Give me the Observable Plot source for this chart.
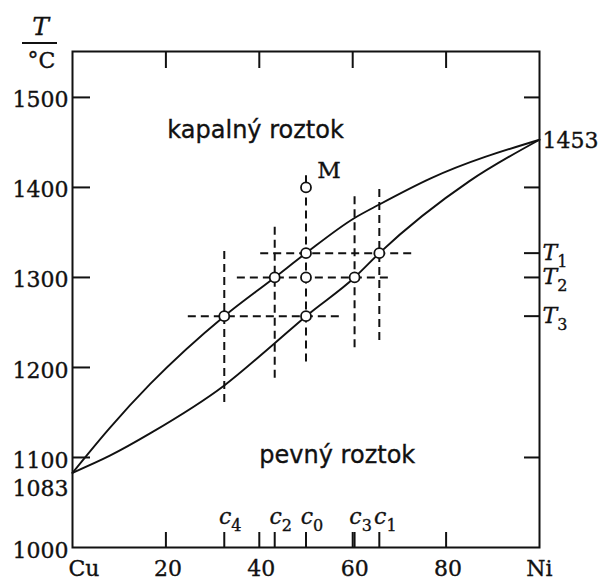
<!DOCTYPE html>
<html>
<head>
<meta charset="utf-8">
<script src="https://cdn.jsdelivr.net/npm/d3@7"></script>
<script src="https://cdn.jsdelivr.net/npm/@observablehq/plot@0.6"></script>
<style>
  body { margin: 0; background: #fff; }
  #chart { width: 601px; height: 581px; }
  #chart svg text { stroke: #111; stroke-width: 0.35px; }
</style>
</head>
<body>
<div id="chart"></div>
<script>
// Cu–Ni binary phase diagram: liquidus and solidus, with a cooling path through M.

// liquidus (upper curve): composition in % Ni, temperature in °C
const liquidusX = [0, 8, 16.7, 32.5, 43.3, 50, 60.4, 65.7, 76.7, 100];
const liquidusT = [1083, 1133, 1182, 1257, 1300, 1327, 1366, 1381, 1410, 1453];
// solidus (lower curve)
const solidusX = [0, 8, 16.7, 32.5, 43.3, 50, 60.4, 65.7, 85, 100];
const solidusT = [1083, 1102, 1127, 1180, 1227, 1257, 1300, 1327, 1407, 1453];

// compositions marked on the bottom axis
const compLabels = ["c4", "c2", "c0", "c3", "c1"];
const compValues = [32.5, 43.3, 50, 60.4, 65.7];
// vertical dashed guides at those compositions (°C)
const compDashFrom = [1161, 1188, 1206, 1222, 1230];
const compDashTo = [1331, 1356, 1400, 1391, 1399];

// temperatures marked on the right axis
const tempLabels = ["T1", "T2", "T3"];
const tempValues = [1327, 1300, 1257];
// horizontal dashed guides at those temperatures (% Ni)
const tempDashFrom = [40.3, 35.3, 24.8];
const tempDashTo = [73.0, 68.1, 57.8];

// state points (open circles)
const pointX = [32.5, 43.3, 50, 50, 60.4, 65.7, 50, 50];
const pointT = [1257, 1300, 1327, 1257, 1300, 1327, 1300, 1400];

// starting point M
const startLabel = "M";
const startX = 50;
const startT = 1400;
const startStemTop = 1413;

// melting points of the pure metals
const meltCu = 1083;
const meltNi = 1453;

// axis ticks and labels
const xTicks = [20, 40, 60, 80];
const xTickLabels = ["20", "40", "60", "80"];
const xEndLabels = ["Cu", "Ni"];
const xEndValues = [0, 100];
const yTicksLeft = [1100, 1200, 1300, 1400, 1500];
const yLabelValues = [1000, 1100, 1200, 1300, 1400, 1500];
const yTicksRight = [1100, 1400, 1500];

// region labels
const regionNames = ["kapalný roztok", "pevný roztok"];
const regionX = [39.2, 56.7];
const regionT = [1463, 1102];

const serif = "DejaVu Serif";
const sans = "DejaVu Sans";
const ink = "#111";

const ci = compValues.map((_, i) => i);
const ti = tempValues.map((_, i) => i);
const pi = pointX.map((_, i) => i);

const chart = Plot.plot({
  width: 601,
  height: 581,
  marginLeft: 72,
  marginRight: 62,
  marginTop: 51,
  marginBottom: 34,
  x: { domain: [0, 100], axis: null },
  y: { domain: [1000, 1551], axis: null },
  style: { fontFamily: serif, fontSize: "22px", color: ink, background: "white" },
  marks: [
    // inward ticks on all four sides
    Plot.axisY(yTicksLeft, { anchor: "left", tickSize: -18, strokeWidth: 2, fill: "none", label: null }),
    Plot.axisY([...yTicksRight, ...tempValues], { anchor: "right", tickSize: -16, strokeWidth: 2, fill: "none", label: null }),
    Plot.axisX(xTicks, { anchor: "top", tickSize: -16, strokeWidth: 2, fill: "none", label: null }),
    Plot.axisX([...xTicks, ...compValues], { anchor: "bottom", tickSize: -15, strokeWidth: 2, fill: "none", label: null }),

    // dashed construction lines
    Plot.ruleY(ti, { y: i => tempValues[i], x1: i => tempDashFrom[i], x2: i => tempDashTo[i], stroke: ink, strokeWidth: 2, strokeDasharray: "8,5" }),
    Plot.ruleX(ci, { x: i => compValues[i], y1: i => compDashFrom[i], y2: i => compDashTo[i], stroke: ink, strokeWidth: 2, strokeDasharray: "8,5" }),
    Plot.ruleX([startX], { x: d => d, y1: startT, y2: startStemTop, stroke: ink, strokeWidth: 2 }),

    // liquidus and solidus
    Plot.line(liquidusX.map((_, i) => i), { x: i => liquidusX[i], y: i => liquidusT[i], curve: "monotone-x", stroke: ink, strokeWidth: 1.9 }),
    Plot.line(solidusX.map((_, i) => i), { x: i => solidusX[i], y: i => solidusT[i], curve: "monotone-x", stroke: ink, strokeWidth: 1.9 }),

    // frame
    Plot.frame({ stroke: ink, strokeWidth: 2 }),

    // state points
    Plot.dot(pi, { x: i => pointX[i], y: i => pointT[i], r: 5, fill: "white", stroke: ink, strokeWidth: 1.8 }),

    // left tick labels
    Plot.text(yLabelValues, { x: 0, y: d => d, text: d => String(d), textAnchor: "end", dx: -4, dy: 3 }),
    Plot.text([meltCu], { x: 0, y: d => d, text: d => String(d), textAnchor: "end", dx: -4, dy: 16 }),
    // right label for the Ni melting point
    Plot.text([meltNi], { x: 100, y: d => d, text: d => String(d), textAnchor: "start", dx: 3, dy: 1 }),
    // bottom tick labels
    Plot.text(xTicks, { x: d => d, y: 1000, text: (d, i) => xTickLabels[i], dy: 21, dx: 2 }),
    Plot.text([0], { x: i => xEndValues[i], y: 1000, text: i => xEndLabels[i], textAnchor: "start", dx: -4, dy: 21 }),
    Plot.text([1], { x: i => xEndValues[i], y: 1000, text: i => xEndLabels[i], dy: 21 }),

    // composition and temperature symbols
    Plot.text(ci, { x: i => compValues[i], y: 1000, text: i => compLabels[i], dx: 6, dy: -31 }),
    Plot.text(ti, { x: 100, y: i => tempValues[i], text: i => tempLabels[i], textAnchor: "start", dx: 3, dy: 0 }),

    // point M
    Plot.text([startLabel], { x: startX, y: startT, text: d => d, dx: 23, dy: -17, fontSize: 23 }),

    // phase regions
    Plot.text(regionNames, { x: (d, i) => regionX[i], y: (d, i) => regionT[i], text: d => d, fontFamily: sans, fontSize: 24 }),

    // axis title T / °C
    Plot.text(["T"], { frameAnchor: "top-left", textAnchor: "middle", lineAnchor: "middle", text: d => d, dx: -32, dy: -25, fontStyle: "italic", fontSize: 25 }),
    Plot.text(["°C"], { frameAnchor: "top-left", textAnchor: "middle", lineAnchor: "middle", text: d => d, dx: -31, dy: 9 })
  ]
});

const svg = d3.select(chart);

// symbols like c4 or T1: italic letter with an upright lowered index
svg.selectAll("text").each(function () {
  const t = d3.select(this);
  if (this.querySelector("tspan")) return;
  const s = t.text();
  if (!/^[cT]\d$/.test(s)) return;
  t.text("");
  t.append("tspan").attr("font-style", "italic").text(s[0]);
  t.append("tspan").attr("dy", 7).attr("font-size", 16).text(s.slice(1));
});

// fraction bar of the axis title
svg.append("line")
  .attr("x1", 22).attr("x2", 57)
  .attr("y1", 43).attr("y2", 43)
  .attr("stroke", ink).attr("stroke-width", 2);

document.getElementById("chart").appendChild(chart);
</script>
</body>
</html>
